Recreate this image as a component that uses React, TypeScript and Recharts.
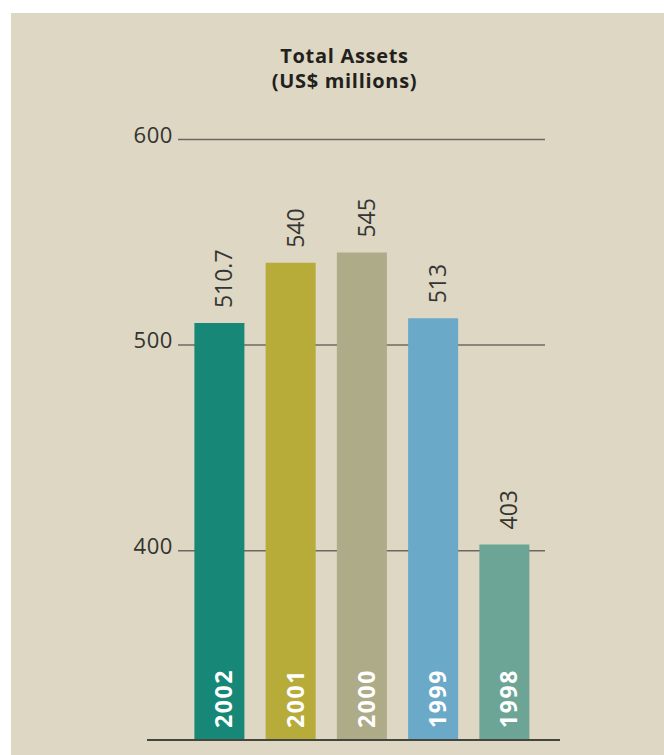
import React from 'react';
import { BarChart, Bar, XAxis, YAxis, CartesianGrid, ReferenceLine, LabelList, Cell } from 'recharts';

const years = ['2002', '2001', '2000', '1999', '1998'];
const totalAssets = [510.7, 540, 545, 513, 403];
const barColors = ['#178777', '#b7ab3a', '#aeab88', '#6aa9c7', '#6ca596'];
const yTicks = [400, 500, 600];
const Y_MIN = 307.9;
const Y_MAX = 600;

const data = years.map((y, i) => ({ year: y, value: totalAssets[i] }));

const FONT = '"Open Sans", "DejaVu Sans", sans-serif';

const YTick = (props: any) => {
  const { x, y, payload } = props;
  return (
    <text x={x} y={y + 3} textAnchor="end" fontFamily={FONT} fontSize={22} letterSpacing={0.6} fill="#333330">
      {payload.value}
    </text>
  );
};

const ValueLabel = (props: any) => {
  const { x, y, width, value } = props;
  const px = Number(x) + Number(width) / 2 + 13;
  const py = Number(y) - 15;
  return (
    <text
      x={px}
      y={py}
      transform={`rotate(-90, ${px}, ${py})`}
      textAnchor="start"
      fontFamily={FONT}
      fontSize={23}
      fill="#353532"
    >
      {value}
    </text>
  );
};

const YearLabel = (props: any) => {
  const { x, y, width, height, value } = props;
  const px = Number(x) + Number(width) / 2 + 13;
  const py = Number(y) + Number(height) - 12;
  return (
    <text
      x={px}
      y={py}
      transform={`rotate(-90, ${px}, ${py})`}
      textAnchor="start"
      fontFamily={FONT}
      fontWeight={700}
      fontSize={23}
      letterSpacing={1.6}
      fill="#ffffff"
    >
      {value}
    </text>
  );
};

const BaseLine = (props: any) => {
  const { x1, y1, x2, y2 } = props;
  return <line x1={x1 - 31} y1={y1} x2={x2 + 15} y2={y2} stroke="#45453f" strokeWidth={2} />;
};

export default function App() {
  return (
    <div style={{ position: 'absolute', left: 0, top: 0, width: 664, height: 755, background: '#ffffff', overflow: 'hidden' }}>
      <div style={{ position: 'absolute', left: 11, top: 13, right: 0, bottom: 0, background: '#ddd7c3' }} />
      <div style={{ position: 'absolute', left: 0, top: 0 }}>
        <BarChart
          width={664}
          height={755}
          data={data}
          margin={{ top: 139.5, right: 119, bottom: 15, left: 118 }}
        >
          <CartesianGrid horizontal={true} vertical={false} stroke="#6b6a60" strokeWidth={1.5} />
          <XAxis dataKey="year" hide padding={{ left: 5.4, right: 5.4 }} />
          <YAxis
            width={60}
            domain={[Y_MIN, Y_MAX]}
            ticks={yTicks}
            allowDataOverflow
            axisLine={false}
            tickLine={false}
            tickSize={0}
            tickMargin={5}
            tick={<YTick />}
          />
          <Bar dataKey="value" barSize={50} isAnimationActive={false}>
            {data.map((d, i) => (
              <Cell key={d.year} fill={barColors[i]} />
            ))}
            <LabelList dataKey="value" content={<ValueLabel />} />
            <LabelList dataKey="year" content={<YearLabel />} />
          </Bar>
          <ReferenceLine y={Y_MIN} ifOverflow="visible" shape={<BaseLine />} />
        </BarChart>
      </div>
      <svg width={664} height={755} style={{ position: 'absolute', left: 0, top: 0, pointerEvents: 'none' }}>
        <text x={344.5} y={63} textAnchor="middle" fontFamily={FONT} fontWeight={700} fontSize={20} letterSpacing={0.7} fill="#231f1c">
          Total Assets
        </text>
        <text x={344.5} y={88} textAnchor="middle" fontFamily={FONT} fontWeight={700} fontSize={20} letterSpacing={0.7} fill="#231f1c">
          (US$ millions)
        </text>
      </svg>
    </div>
  );
}
